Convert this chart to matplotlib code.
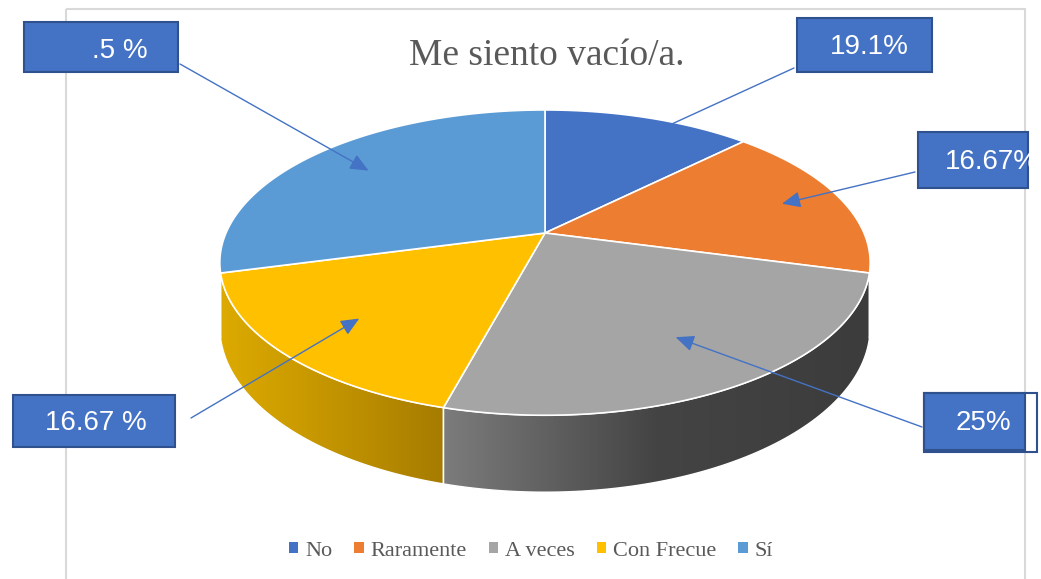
import numpy as np
import matplotlib.pyplot as plt
from matplotlib.patches import Polygon, Rectangle, Patch
from matplotlib.colors import LinearSegmentedColormap

# Data
categories = ['No', 'Raramente', 'A veces', 'Con Frecue', 'Sí']
values = [12.5, 16.67, 25, 16.67, 29.17]
label_texts = ['19.1%', '16.67%', '25%', '16.67 %', '.5 %']

colors = ['#4472C4', '#ED7D31', '#A5A5A5', '#FFC000', '#5B9BD5']
# side wall gradients (light -> mid -> dark), Excel style shading
side_colors = [('#34589a', '#2e5090', '#2a4a80'), ('#c0601c', '#ad5618', '#9a4c14'),
               ('#7c7c7c', '#444444', '#3c3c3c'), ('#dcaa00', '#c39400', '#a67c00'),
               ('#4a84bd', '#4278ae', '#3a6ea0')]

# label boxes (x, y, w, h) in pixels and text centres
boxes = [(797, 18, 135, 54), (918, 132, 110, 56), (924, 393, 101, 57),
         (13, 395, 162, 52), (24, 22, 154, 50)]
text_pos = [(869, 47), (992, 162), (983, 423), (96, 423), (120, 51)]
line_start = [(794, 68), (915, 172), (922, 427), (191, 418), (180, 64)]
tip_radius = [0.72, 0.8, 0.72, 0.74, 0.76]

# pseudo-3D projection of the pie
cx, cy = 545, 233
kx, ky, persp, depth = 319, 146.9, 0.194, 62


def proj(theta, r=1.0, z=0.0):
    X = r * np.cos(theta)
    Y = r * np.sin(theta)
    w = 1 + persp * Y
    return cx + kx * X / w, cy + (-ky * Y + z * depth) / w


fig = plt.figure(figsize=(10.41, 5.79), dpi=100)
ax = fig.add_axes([0, 0, 1, 1])
ax.axis('off')

# chart border
ax.add_patch(Rectangle((66, 9), 959, 600, fill=False, edgecolor='#D9D9D9', lw=1.5, zorder=0))

total = sum(values)
starts = 90 - 360 * np.concatenate([[0], np.cumsum(values)[:-1]]) / total
ends = starts - 360 * np.array(values) / total
vis_hi = -np.degrees(np.arcsin(persp))
vis_lo = -180 - vis_hi

# side walls
for i in range(len(values)):
    a = min(starts[i], vis_hi)
    b = max(ends[i], vis_lo)
    if a <= b:
        continue
    t = np.radians(np.linspace(a, b, 80))
    xt, yt = proj(t)
    xb, yb = proj(t[::-1], z=1)
    pts = np.column_stack([np.concatenate([xt, xb]), np.concatenate([yt, yb])])
    poly = Polygon(pts, closed=True, facecolor='none', edgecolor='white', lw=1, zorder=2)
    ax.add_patch(poly)
    cmap = LinearSegmentedColormap.from_list('s', list(side_colors[i]))
    grad = np.linspace(0, 1, 256).reshape(1, -1)
    im = ax.imshow(grad, cmap=cmap, aspect='auto', zorder=1,
                   extent=(pts[:, 0].min(), pts[:, 0].max(), pts[:, 1].max(), pts[:, 1].min()))
    im.set_clip_path(poly)

# top faces
for i in range(len(values)):
    t = np.radians(np.linspace(starts[i], ends[i], 120))
    xt, yt = proj(t)
    pts = np.column_stack([np.concatenate([[cx], xt]), np.concatenate([[cy], yt])])
    ax.add_patch(Polygon(pts, closed=True, facecolor=colors[i], edgecolor='white', lw=1.2, zorder=3))

# leader arrows
for i in range(len(values)):
    mid = np.radians((starts[i] + ends[i]) / 2)
    tip = proj(mid, r=tip_radius[i])
    ax.annotate('', xy=tip, xytext=line_start[i],
                arrowprops=dict(arrowstyle='-|>,head_length=0.8,head_width=0.35',
                                color='#4472C4', lw=1, shrinkA=0, shrinkB=0,
                                mutation_scale=14), zorder=4)

# label boxes
for i in range(len(values)):
    x, y, w, h = boxes[i]
    rect = Rectangle((x, y), w, h, facecolor='#4472C4', edgecolor='#2F528F', lw=1.5, zorder=5)
    ax.add_patch(rect)
    txt = ax.text(text_pos[i][0], text_pos[i][1], label_texts[i], color='white',
                  fontsize=20, family='Liberation Sans', ha='center', va='center', zorder=6)
    txt.set_clip_path(rect)
# frame of the 25% box
ax.add_patch(Rectangle((924, 393), 113, 59, fill=False, edgecolor='#2F528F', lw=1.5, zorder=5))

ax.text(547, 56, 'Me siento vacío/a.', fontsize=27, family='Liberation Serif',
        color='#595959', ha='center', va='center', zorder=6)

handles = [Patch(facecolor=c, edgecolor='none') for c in colors]
fig.legend(handles, categories, loc='center', bbox_to_anchor=(531 / 1041, 1 - 551 / 579),
           ncol=5, frameon=False, prop={'family': 'Liberation Serif', 'size': 16},
           labelcolor='#595959', handlelength=0.42, handleheight=0.42,
           handletextpad=0.3, columnspacing=1.0)

ax.set_xlim(0, 1041)
ax.set_ylim(579, 0)
fig.savefig('out.png', dpi=100)
